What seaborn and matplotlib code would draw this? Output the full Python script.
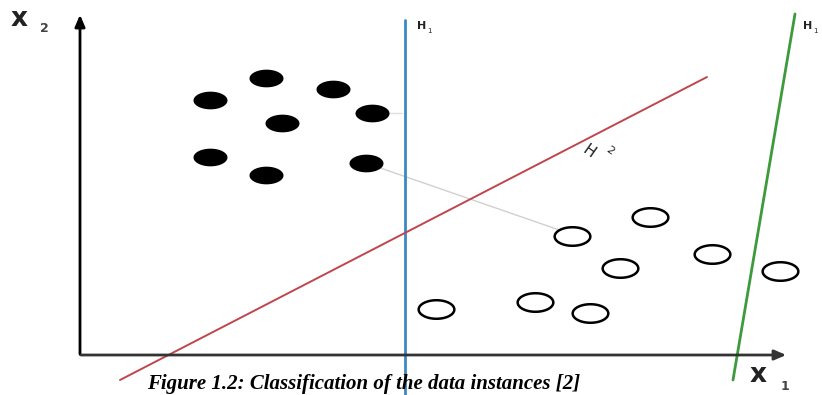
import numpy as np
import matplotlib.pyplot as plt
import seaborn as sns
from matplotlib.path import Path

# class 1 (filled) and class 2 (hollow) points, in picture units
filled_x = [210, 266, 333, 372, 282, 210, 266, 366]
filled_y = [100, 78, 89, 113, 123, 157, 175, 163]
hollow_x = [572, 650, 436, 535, 590, 620, 712, 780]
hollow_y = [236, 217, 309, 302, 313, 268, 254, 271]

# separating lines (x, y ends)
h1_x = [405, 405]
h1_y = [20, 395]
h2_x = [120, 707]
h2_y = [380, 77]
h3_x = [795, 733]
h3_y = [14, 380]

caption = "Figure 1.2: Classification of the data instances [2]"

sns.set_style("white")
fig = plt.figure(figsize=(8.22, 3.95), dpi=100)
ax = fig.add_axes([0, 0, 1, 1])
ax.set_xlim(0, 822)
ax.set_ylim(395, 0)
ax.axis("off")

# ellipse marker
t = np.linspace(0, 2 * np.pi, 60)
ell = Path(np.column_stack([np.cos(t), 0.52 * np.sin(t)]), closed=True)

# thin grey helper lines
ax.plot([366, 568], [163, 233], color="#d0d0d0", lw=1, zorder=1)
ax.plot([372, 402], [113, 113], color="#e0e0e0", lw=1, zorder=1)

# axes with arrows
ax.annotate("", xy=(80, 12), xytext=(80, 357),
            arrowprops=dict(arrowstyle="-|>,head_length=0.7,head_width=0.3", color="black", lw=2))
ax.annotate("", xy=(789, 355), xytext=(78, 355),
            arrowprops=dict(arrowstyle="-|>,head_length=0.7,head_width=0.3", color="#333333", lw=2))

ax.plot(h1_x, h1_y, color="#3b89c2", lw=2, zorder=2)
ax.plot(h2_x, h2_y, color="#c0454d", lw=1.4, zorder=2)
ax.plot(h3_x, h3_y, color="#3d9a3d", lw=2, zorder=2)

sns.scatterplot(x=filled_x, y=filled_y, marker=ell, s=600, color="black",
                edgecolor="black", linewidth=0, ax=ax, zorder=3)
sns.scatterplot(x=hollow_x, y=hollow_y, marker=ell, s=660, facecolor="white",
                edgecolor="black", linewidth=1.8, ax=ax, zorder=3)

# labels
ax.text(11, 19, "x", fontsize=19, color="#222222", va="center", fontweight="bold")
ax.text(40, 29, "2", fontsize=9, color="#444444", va="center", fontweight="bold")
ax.text(750, 375, "x", fontsize=19, color="#222222", va="center", fontweight="bold")
ax.text(781, 387, "1", fontsize=9, color="#444444", va="center", fontweight="bold")
ax.text(417, 26, "H", fontsize=8, color="#222222", va="center", fontweight="bold")
ax.text(427, 31, "1", fontsize=5, color="#222222", va="center")
ax.text(803, 26, "H", fontsize=8, color="#222222", va="center", fontweight="bold")
ax.text(813, 31, "1", fontsize=5, color="#222222", va="center")
ax.text(589, 152, "H", fontsize=11, color="#222222", ha="center", va="center", rotation=-35)
ax.text(610, 151, "2", fontsize=8, color="#222222", ha="center", va="center", rotation=-35)

ax.text(364, 384, caption, fontsize=15, family="Liberation Serif", fontweight="bold",
        fontstyle="italic", ha="center", va="center", color="black")

fig.savefig("out.png", dpi=100)
